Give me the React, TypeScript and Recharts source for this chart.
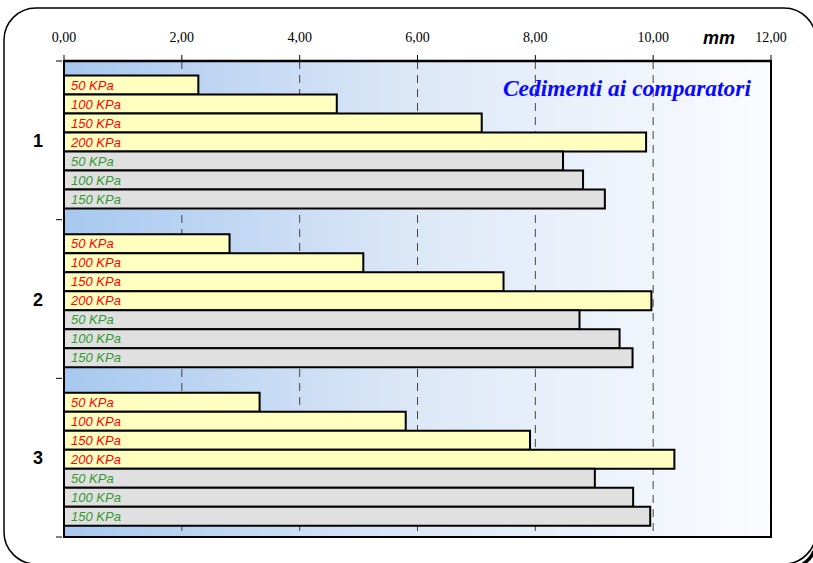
import React from 'react';
import {
  BarChart,
  Bar,
  XAxis,
  YAxis,
  CartesianGrid,
  ReferenceArea,
  LabelList,
} from 'recharts';

// Comparator groups
const groups = ['1', '2', '3'];

// First loading cycle (mm)
const load50 = [2.28, 2.81, 3.32];
const load100 = [4.63, 5.08, 5.8];
const load150 = [7.09, 7.46, 7.91];
const load200 = [9.88, 9.97, 10.36];

// Reloading cycle (mm)
const reload50 = [8.47, 8.75, 9.01];
const reload100 = [8.81, 9.43, 9.66];
const reload150 = [9.18, 9.65, 9.95];

const xTicks = [0, 2, 4, 6, 8, 10, 12];

const series = [
  { key: 'load50', label: '50 KPa', values: load50, kind: 'load' },
  { key: 'load100', label: '100 KPa', values: load100, kind: 'load' },
  { key: 'load150', label: '150 KPa', values: load150, kind: 'load' },
  { key: 'load200', label: '200 KPa', values: load200, kind: 'load' },
  { key: 'reload50', label: '50 KPa', values: reload50, kind: 'reload' },
  { key: 'reload100', label: '100 KPa', values: reload100, kind: 'reload' },
  { key: 'reload150', label: '150 KPa', values: reload150, kind: 'reload' },
];

const data = groups.map((name, i) => {
  const row: Record<string, string | number> = { name };
  series.forEach((s) => {
    row[s.key] = s.values[i];
  });
  return row;
});

const W = 813;
const H = 563;

const SERIF = "'Liberation Serif', 'Times New Roman', serif";
const SANS = "'Liberation Sans', Arial, sans-serif";

const formatMm = (v: number) => v.toFixed(2).replace('.', ',');

// Top value axis tick label (serif, comma decimals)
const ValueTick = (props: any) => {
  const { x, y, payload } = props;
  return (
    <text x={x} y={y} textAnchor="middle" fontFamily={SERIF} fontSize={14} fill="#000">
      {formatMm(Number(payload.value))}
    </text>
  );
};

// Category tick: bold group number plus short tick marks at the band edges
const GroupTick = (props: any) => {
  const { x, y, payload, index, visibleTicksCount } = props;
  const half = payload && typeof payload.offset === 'number' && payload.offset > 0 ? payload.offset : 79.3;
  const axisX = x + 6;
  const isLast = index === (visibleTicksCount ?? 3) - 1;
  return (
    <g>
      <line x1={axisX - 6} x2={axisX} y1={y - half} y2={y - half} stroke="#000" strokeWidth={1} />
      {isLast && (
        <line x1={axisX - 6} x2={axisX} y1={y + half} y2={y + half} stroke="#000" strokeWidth={1} />
      )}
      <text
        x={axisX - 19}
        y={y}
        dy={6.5}
        textAnchor="end"
        fontFamily={SANS}
        fontWeight="bold"
        fontSize={18}
        fill="#000"
      >
        {payload.value}
      </text>
    </g>
  );
};

export default function App() {
  return (
    <div style={{ position: 'absolute', left: 0, top: 0, width: W, height: H, background: '#fff', overflow: 'hidden' }}>
      <svg width={W} height={H} style={{ position: 'absolute', left: 0, top: 0 }}>
        <defs>
          <linearGradient id="plotBg" x1="0" y1="0" x2="1" y2="0">
            <stop offset="0%" stopColor="#a7c8ef" />
            <stop offset="50%" stopColor="#dde8f7" />
            <stop offset="100%" stopColor="#fbfcff" />
          </linearGradient>
        </defs>
        <rect x={4} y={8} width={812} height={556} rx={32} ry={32} fill="#fff" stroke="#000" strokeWidth={1.5} />
        <path d="M 814 551 Q 811 559 803 564" fill="none" stroke="#000" strokeWidth={3.5} />
      </svg>
      <div style={{ position: 'absolute', left: 0, top: 0 }}>
        <BarChart
          width={W}
          height={H}
          data={data}
          layout="vertical"
          margin={{ top: 31, right: 42, bottom: 26, left: 0 }}
          barGap={0}
          barCategoryGap={14.5}
        >
          <CartesianGrid
            horizontal={false}
            vertical={true}
            fill="url(#plotBg)"
            fillOpacity={1}
            stroke="#444"
            strokeDasharray="8 6"
          />
          <XAxis
            type="number"
            orientation="top"
            domain={[0, 12]}
            ticks={xTicks}
            interval={0}
            height={30}
            axisLine={{ stroke: '#000', strokeWidth: 2.5 }}
            tickLine={{ stroke: '#000' }}
            tickSize={6}
            tickMargin={13}
            tick={<ValueTick />}
          />
          <YAxis
            type="category"
            dataKey="name"
            width={64}
            axisLine={{ stroke: '#000', strokeWidth: 2 }}
            tickLine={false}
            tick={<GroupTick />}
            interval={0}
          />
          {series.map((s) => (
            <Bar
              key={s.key}
              dataKey={s.key}
              fill={s.kind === 'load' ? '#ffffc0' : '#e0e0e0'}
              stroke="#000"
              strokeWidth={2}
              isAnimationActive={false}
            >
              <LabelList
                dataKey={s.key}
                position="insideLeft"
                offset={7}
                formatter={() => s.label}
                fill={s.kind === 'load' ? '#ff0000' : '#339933'}
                fontFamily={SANS}
                fontStyle="italic"
                fontSize={13}
              />
            </Bar>
          ))}
          <ReferenceArea
            x1={0}
            x2={12}
            fill="none"
            stroke="#000"
            strokeWidth={2}
            ifOverflow="visible"
          />
        </BarChart>
      </div>
      <svg width={W} height={H} style={{ position: 'absolute', left: 0, top: 0, pointerEvents: 'none' }}>
        <text
          x={751}
          y={96}
          textAnchor="end"
          fontFamily={SERIF}
          fontWeight="bold"
          fontStyle="italic"
          fontSize={23.5}
          fill="#0a0aff"
        >
          Cedimenti ai comparatori
        </text>
        <text
          x={719}
          y={44}
          textAnchor="middle"
          fontFamily={SANS}
          fontWeight="bold"
          fontStyle="italic"
          fontSize={18}
          fill="#000"
        >
          mm
        </text>
      </svg>
    </div>
  );
}
